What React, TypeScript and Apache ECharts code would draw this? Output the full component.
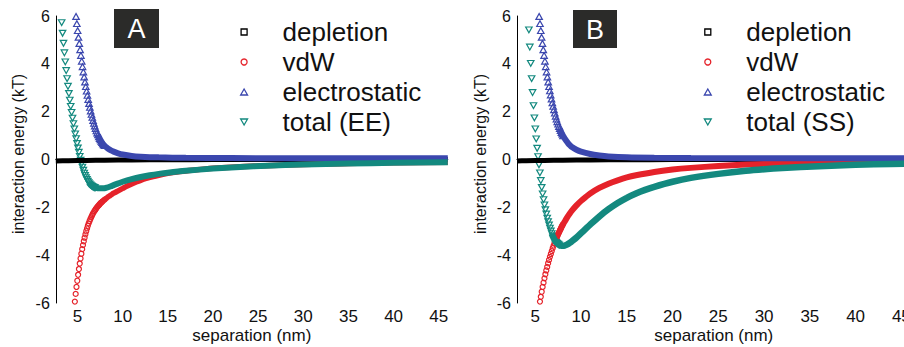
import React, { useEffect, useRef } from "react";
import * as echarts from "echarts";

type Pt = [number, number];

// ---------- axis ticks ----------
const X_TICKS = [5, 10, 15, 20, 25, 30, 35, 40, 45];
const Y_TICKS = [-6, -4, -2, 0, 2, 4, 6];
const X_RANGE_A: [number, number] = [2.6, 46];
const X_RANGE_B: [number, number] = [3.0, 46];

// ---------- series names ----------
const NAMES_A = ["depletion", "vdW", "electrostatic", "total (EE)"];
const NAMES_B = ["depletion", "vdW", "electrostatic", "total (SS)"];

// ---------- Panel A data (separation nm, energy kT) ----------
const A_DEPLETION: Pt[] = [
  [2.6, -0.06], [4, -0.05], [6, -0.04], [8, -0.03], [11, -0.02], [15, -0.01], [20, -0.005], [30, 0], [46, 0],
];
const A_VDW: Pt[] = [
  [4.71, -5.94], [4.8, -5.62], [4.89, -5.33], [4.98, -5.07], [5.07, -4.82], [5.16, -4.58], [5.25, -4.35],
  [5.34, -4.14], [5.43, -3.94], [5.52, -3.75], [5.61, -3.58], [5.7, -3.42], [5.79, -3.27], [5.88, -3.13],
  [5.97, -3.0], [6.06, -2.88], [6.15, -2.77], [6.24, -2.67], [6.33, -2.58], [6.42, -2.5], [6.51, -2.42],
  [6.6, -2.35], [6.69, -2.28], [6.78, -2.22], [6.87, -2.16], [6.96, -2.11], [7.05, -2.06], [7.14, -2.01],
  [7.23, -1.97], [7.32, -1.93], [7.41, -1.89], [7.5, -1.85], [7.6, -1.81], [7.7, -1.78], [7.8, -1.74],
  [8.0, -1.68], [8.2, -1.62], [8.4, -1.56], [8.6, -1.51], [8.8, -1.46], [9.0, -1.41], [9.3, -1.35],
  [9.6, -1.29], [10, -1.21], [10.5, -1.11], [11, -1.02], [11.5, -0.94], [12, -0.87], [13, -0.75],
  [14, -0.66], [15, -0.58], [16, -0.52], [18, -0.44], [20, -0.37], [22, -0.32], [25, -0.27], [28, -0.23],
  [32, -0.19], [36, -0.16], [40, -0.14], [46, -0.11],
];
const A_ELECTROSTATIC: Pt[] = [
  [4.84, 5.98], [4.93, 5.68], [5.02, 5.39], [5.11, 5.11], [5.2, 4.85], [5.29, 4.59], [5.38, 4.35],
  [5.47, 4.11], [5.56, 3.88], [5.65, 3.66], [5.74, 3.45], [5.83, 3.24], [5.92, 3.05], [6.01, 2.86],
  [6.1, 2.68], [6.19, 2.51], [6.28, 2.34], [6.37, 2.18], [6.46, 2.03], [6.55, 1.89], [6.64, 1.76],
  [6.73, 1.63], [6.82, 1.51], [6.91, 1.4], [7.0, 1.3], [7.09, 1.2], [7.18, 1.11], [7.27, 1.03],
  [7.36, 0.95], [7.45, 0.88], [7.54, 0.82], [7.63, 0.76], [7.72, 0.71], [7.81, 0.66], [7.9, 0.62],
  [8.0, 0.58], [8.2, 0.51], [8.4, 0.45], [8.7, 0.38], [9.0, 0.33], [9.5, 0.26], [10, 0.21], [11, 0.15],
  [12, 0.12], [14, 0.09], [17, 0.07], [22, 0.06], [30, 0.05], [46, 0.05],
];
const A_TOTAL: Pt[] = [
  [3.25, 5.72], [3.35, 5.28], [3.45, 4.86], [3.55, 4.46], [3.65, 4.08], [3.75, 3.72], [3.85, 3.38],
  [3.95, 3.06], [4.05, 2.76], [4.15, 2.48], [4.25, 2.22], [4.35, 1.97], [4.45, 1.73], [4.55, 1.5],
  [4.65, 1.28], [4.75, 1.07], [4.85, 0.87], [4.95, 0.67], [5.05, 0.48], [5.15, 0.3], [5.25, 0.13],
  [5.35, -0.03], [5.45, -0.18], [5.55, -0.32], [5.65, -0.45], [5.75, -0.57], [5.85, -0.67], [5.95, -0.76],
  [6.05, -0.84], [6.15, -0.91], [6.25, -0.97], [6.35, -1.02], [6.45, -1.06], [6.55, -1.1], [6.65, -1.13],
  [6.75, -1.15], [6.85, -1.17], [6.95, -1.18], [7.1, -1.19], [7.3, -1.2], [7.5, -1.2], [7.7, -1.2],
  [7.9, -1.2], [8.1, -1.19], [8.4, -1.16], [8.7, -1.12], [9, -1.07], [9.5, -1.0], [10, -0.93],
  [11, -0.82], [12, -0.73], [13, -0.66], [14, -0.6], [15, -0.55], [17, -0.47], [20, -0.38], [23, -0.31],
  [26, -0.26], [30, -0.21], [35, -0.17], [40, -0.14], [46, -0.12],
];

// ---------- Panel B data ----------
const B_DEPLETION: Pt[] = [
  [3.0, -0.06], [4, -0.05], [6, -0.04], [8, -0.03], [11, -0.02], [15, -0.01], [20, -0.005], [30, 0], [46, 0],
];
const B_VDW: Pt[] = [
  [5.51, -5.94], [5.6, -5.74], [5.7, -5.53], [5.8, -5.33], [5.9, -5.15], [6.0, -4.97], [6.1, -4.8],
  [6.2, -4.64], [6.3, -4.49], [6.4, -4.34], [6.5, -4.2], [6.6, -4.07], [6.7, -3.95], [6.8, -3.83],
  [6.9, -3.71], [7.0, -3.6], [7.1, -3.49], [7.2, -3.38], [7.3, -3.29], [7.4, -3.21], [7.5, -3.12],
  [7.6, -3.04], [7.7, -2.96], [7.8, -2.88], [7.9, -2.8], [8.0, -2.73], [8.25, -2.57], [8.5, -2.41],
  [8.75, -2.27], [9.0, -2.14], [9.5, -1.92], [10, -1.73], [10.5, -1.57], [11, -1.42], [12, -1.19],
  [13, -1.01], [14, -0.87], [15, -0.75], [16, -0.66], [18, -0.52], [20, -0.42], [22, -0.35], [25, -0.27],
  [28, -0.21], [32, -0.16], [36, -0.13], [40, -0.1], [46, -0.08],
];
const B_ELECTROSTATIC: Pt[] = [
  [5.42, 5.98], [5.51, 5.68], [5.6, 5.39], [5.69, 5.11], [5.78, 4.85], [5.87, 4.59], [5.96, 4.35],
  [6.05, 4.11], [6.14, 3.88], [6.23, 3.66], [6.32, 3.45], [6.41, 3.24], [6.5, 3.05], [6.59, 2.87],
  [6.68, 2.7], [6.77, 2.53], [6.86, 2.37], [6.95, 2.22], [7.04, 2.08], [7.13, 1.94], [7.22, 1.81],
  [7.31, 1.69], [7.4, 1.58], [7.49, 1.48], [7.58, 1.38], [7.67, 1.29], [7.76, 1.21], [7.85, 1.13],
  [7.94, 1.06], [8.03, 0.99], [8.2, 0.88], [8.4, 0.77], [8.6, 0.67], [8.8, 0.59], [9.0, 0.52],
  [9.5, 0.41], [10, 0.33], [11, 0.23], [12, 0.17], [13, 0.13], [15, 0.09], [18, 0.07], [22, 0.06],
  [30, 0.05], [46, 0.05],
];
const B_TOTAL: Pt[] = [
  [4.3, 5.42], [4.4, 4.7], [4.5, 4.02], [4.6, 3.38], [4.7, 2.8], [4.8, 2.25], [4.9, 1.74], [5.0, 1.28],
  [5.1, 0.86], [5.2, 0.47], [5.3, 0.12], [5.4, -0.22], [5.5, -0.56], [5.6, -0.88], [5.7, -1.17],
  [5.8, -1.44], [5.9, -1.68], [6.0, -1.9], [6.1, -2.1], [6.2, -2.28], [6.3, -2.45], [6.4, -2.6],
  [6.5, -2.74], [6.6, -2.87], [6.7, -2.99], [6.8, -3.1], [6.9, -3.2], [7.0, -3.28], [7.1, -3.36],
  [7.2, -3.42], [7.3, -3.47], [7.4, -3.51], [7.5, -3.54], [7.6, -3.57], [7.7, -3.59], [7.8, -3.6],
  [7.9, -3.61], [8.0, -3.61], [8.2, -3.6], [8.4, -3.57], [8.6, -3.53], [8.8, -3.48], [9.0, -3.42],
  [9.5, -3.26], [10, -3.08], [10.5, -2.9], [11, -2.72], [12, -2.38], [13, -2.08], [14, -1.82],
  [15, -1.6], [16, -1.42], [17, -1.27], [18, -1.14], [20, -0.93], [22, -0.77], [25, -0.6], [28, -0.47],
  [31, -0.38], [34, -0.31], [38, -0.25], [42, -0.2], [46, -0.17],
];

// ---------- styles ----------
const FONT = "'Liberation Sans', Arial, Helvetica, sans-serif";
const BLACK = "#000000";
const RED = "#e5222a";
const BLUE = "#3b47ae";
const TEAL = "#13897f";
const SQ = "path://M0,0H10V10H0Z";
const TRI_UP = "path://M5,0L10,8.7L0,8.7Z";
const TRI_DN = "path://M0,0L10,0L5,8.7Z";

interface CurveStyle {
  color: string;
  symbol: string;
  size: number | number[];
  markMax: number; // markers drawn for x <= markMax
  bandMin: number; // solid band drawn for x >= bandMin
  bandWidth: number;
}

function buildSeries(grid: number, names: string[], datasets: Pt[][], styles: CurveStyle[]) {
  const out: any[] = [];
  datasets.forEach((d, i) => {
    const st = styles[i];
    const marks = d.filter((p) => p[0] <= st.markMax);
    const band = d.filter((p) => p[0] >= st.bandMin);
    if (marks.length) {
      out.push({
        type: "scatter",
        name: names[i],
        xAxisIndex: grid,
        yAxisIndex: grid,
        data: marks,
        symbol: st.symbol,
        symbolSize: st.size,
        itemStyle: { color: "rgba(0,0,0,0)", borderColor: st.color, borderWidth: 1.2, opacity: 1 },
        emphasis: { disabled: true },
        silent: true,
      });
    }
    if (band.length) {
      out.push({
        type: "line",
        name: names[i],
        xAxisIndex: grid,
        yAxisIndex: grid,
        data: band,
        showSymbol: false,
        symbol: "none",
        smooth: 0.25,
        lineStyle: { color: st.color, width: st.bandWidth },
        emphasis: { disabled: true },
        silent: true,
      });
    }
  });
  return out;
}

function legendFor(left: number, names: string[]) {
  const icons = [SQ, "circle", TRI_UP, TRI_DN];
  const cols = [BLACK, RED, BLUE, TEAL];
  return {
    orient: "vertical",
    left,
    top: 14,
    itemWidth: 67,
    itemHeight: 6,
    itemGap: 4,
    selectedMode: false,
    symbolKeepAspect: true,
    textStyle: { fontSize: 26, lineHeight: 26, color: "#111", fontFamily: FONT },
    data: names.map((n, i) => ({
      name: n,
      icon: icons[i],
      itemStyle: { color: "#ffffff", borderColor: cols[i], borderWidth: 1.3 },
    })),
  };
}

export default function App() {
  const ref = useRef<HTMLDivElement>(null);
  useEffect(() => {
    if (!ref.current) return;
    const chart = echarts.init(ref.current, undefined, { renderer: "svg" });

    const stylesA: CurveStyle[] = [
      { color: BLACK, symbol: SQ, size: 5, markMax: -1, bandMin: 0, bandWidth: 5 },
      { color: RED, symbol: "circle", size: 5, markMax: 8.0, bandMin: 6.9, bandWidth: 5.5 },
      { color: BLUE, symbol: TRI_UP, size: [6.5, 5.8], markMax: 8.0, bandMin: 7.2, bandWidth: 6 },
      { color: TEAL, symbol: TRI_DN, size: [6.5, 5.8], markMax: 7.0, bandMin: 6.2, bandWidth: 6 },
    ];
    const stylesB: CurveStyle[] = [
      { color: BLACK, symbol: SQ, size: 5, markMax: -1, bandMin: 0, bandWidth: 5 },
      { color: RED, symbol: "circle", size: 5, markMax: 8.0, bandMin: 7.3, bandWidth: 6 },
      { color: BLUE, symbol: TRI_UP, size: [6.5, 5.8], markMax: 8.1, bandMin: 7.6, bandWidth: 6 },
      { color: TEAL, symbol: TRI_DN, size: [6.5, 5.8], markMax: 7.6, bandMin: 6.8, bandWidth: 6.5 },
    ];

    const xStep = X_TICKS[1] - X_TICKS[0];
    const yStep = Y_TICKS[1] - Y_TICKS[0];

    const xAxisBase = (range: [number, number], grid: number) => ({
      type: "value",
      gridIndex: grid,
      min: range[0],
      max: range[1],
      minInterval: xStep,
      maxInterval: xStep,
      name: "separation (nm)",
      nameLocation: "middle",
      nameGap: 24,
      nameMoveOverlap: false,
      nameTextStyle: { fontSize: 17, lineHeight: 17, color: "#111", fontFamily: FONT },
      axisLine: { show: true, lineStyle: { color: "#000", width: 1 } },
      axisTick: { show: false },
      splitLine: { show: false },
      axisLabel: {
        showMinLabel: false,
        showMaxLabel: false,
        fontSize: 17,
        lineHeight: 17,
        color: "#111",
        fontFamily: FONT,
        margin: 5,
      },
    });
    const yAxisBase = (grid: number) => ({
      type: "value",
      gridIndex: grid,
      min: Y_TICKS[0],
      max: Y_TICKS[Y_TICKS.length - 1],
      interval: yStep,
      name: "interaction energy (kT)",
      nameLocation: "middle",
      nameGap: 29,
      nameMoveOverlap: false,
      nameTextStyle: { fontSize: 16, color: "#111", fontFamily: FONT, padding: [0, 0, 0, 11] },
      axisLine: { show: true, lineStyle: { color: "#000", width: 1 } },
      axisTick: { show: false },
      splitLine: { show: false },
      axisLabel: { fontSize: 16, color: "#111", fontFamily: FONT, margin: 6 },
    });

    chart.setOption({
      animation: false,
      backgroundColor: "#ffffff",
      grid: [
        { left: 55.8, top: 16, width: 392, height: 287, containLabel: false, outerBoundsMode: "none" },
        { left: 517, top: 16, width: 393.5, height: 287, containLabel: false, outerBoundsMode: "none" },
      ],
      xAxis: [xAxisBase(X_RANGE_A, 0), xAxisBase(X_RANGE_B, 1)],
      yAxis: [yAxisBase(0), yAxisBase(1)],
      legend: [legendFor(235, NAMES_A), legendFor(698.7, NAMES_B)],
      graphic: [
        { type: "rect", left: 114, top: 9, shape: { width: 45, height: 39 }, style: { fill: "#2b2b29" } },
        {
          type: "text",
          x: 136.5,
          y: 29,
          style: { text: "A", fill: "#ffffff", font: `27px ${FONT}`, textAlign: "center", textVerticalAlign: "middle" },
        },
        { type: "rect", left: 573, top: 10, shape: { width: 44, height: 38 }, style: { fill: "#2b2b29" } },
        {
          type: "text",
          x: 595,
          y: 29.5,
          style: { text: "B", fill: "#ffffff", font: `27px ${FONT}`, textAlign: "center", textVerticalAlign: "middle" },
        },
      ],
      series: [
        ...buildSeries(0, NAMES_A, [A_DEPLETION, A_VDW, A_ELECTROSTATIC, A_TOTAL], stylesA),
        ...buildSeries(1, NAMES_B, [B_DEPLETION, B_VDW, B_ELECTROSTATIC, B_TOTAL], stylesB),
      ],
    });
    return () => chart.dispose();
  }, []);
  return (
    <div
      ref={ref}
      style={{ position: "absolute", left: 0, top: 0, width: 904, height: 347, background: "#fff" }}
    />
  );
}
